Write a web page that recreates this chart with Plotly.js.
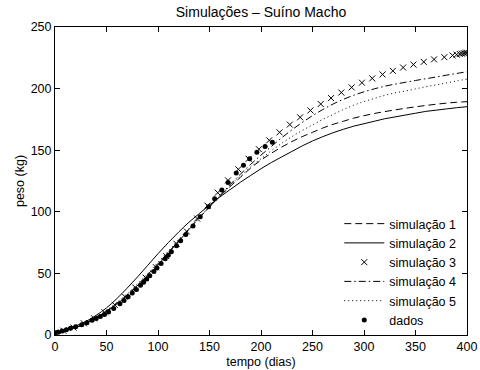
<!DOCTYPE html>
<html>
<head>
<meta charset="utf-8">
<script src="https://cdn.plot.ly/plotly-3.0.1.min.js"></script>
<style>html,body{margin:0;padding:0;background:#fff;}#chart{width:480px;height:370px;}</style>
</head>
<body>
<div id="chart"></div>
<script>
// time grid (days) for simulated curves
const days = [0,10,20,30,40,50,60,70,80,90,100,110,120,130,140,150,160,170,180,190,200,
  210,220,230,240,250,260,270,280,290,300,310,320,330,340,350,360,370,380,390,400];

const sim1 = [2,3.5,6,9.5,14,19.5,25.5,32.5,40.5,49,58,67,76.5,86,95,104,112.5,120.5,128,135.5,142,
  147.5,152.5,157,161,164.5,168,171,173.5,176,178,179.8,181.3,182.7,184,185.2,186.3,187.3,188.2,188.9,189.4];

const sim2 = [2.5,4.5,7.3,11,16,22,29.5,38,47,56.5,66,75,83.5,91.5,98.5,105.5,112,118,124,129.5,135,
  140,144.5,149,153.5,157.5,161,164.2,167,169.5,171.5,173.5,175.5,177,178.5,180,181.5,182.5,183.5,184.5,185.3];

const sim4 = [2,3.5,6,9.5,14,19,25,32,39.5,48,57,66.5,76,85.5,95,104,113,122,130.5,138.5,146,
  153,160,166.5,172.5,178,183,187.5,191.3,194.6,197.4,199.8,201.9,203.6,205.1,206.6,208,209.4,210.9,212.3,213.7];

const sim5 = [2,3.5,6.2,10,14.5,20,26.5,33.5,41.5,50,59,68,77.5,86.5,95.5,104,112.5,121,129,136.5,143,
  149.5,155.5,161,166,170.5,175,179,183,186.5,189.5,192,194.5,196.5,198,199.8,201.5,203,204.6,206.2,207.7];

// simulation 3 (marker output points)
const days3 = [0,8,18,28,38,48,58,68,78,88,98,108,118,128,138,148,158,168,178,188,198,
  208,218,228,238,248,258,268,278,288,298,308,318,328,338,348,358,368,378,386,390,393,395,397,398.5,400];
const sim3 = [2,3.5,6,9.5,13.5,18.5,24.5,31,38.5,46.5,55,64,74,84,94.5,105,115.5,125.5,134.5,143,150.8,
  158,164.5,170.8,176.7,182.3,187.5,192.3,196.8,201,204.8,208.3,211.5,214.4,217.1,219.5,221.7,223.7,225.5,226.9,227.6,228.1,228.4,228.7,228.9,229.1];

// observed data
const daysObs = [0,3,7,11,15,20,26,31,36,40,44,48,52,57,63,67,71,75,79,83,86,89,92,96,99,103,107,110,113,118,
  122,127,134,141,149,155,162,168,176,183,189,196,204,211];
const weightObs = [1.8,2.3,3.2,4.3,5.4,6.6,8.3,10,12,13.4,15,16.7,18.6,21.5,25.3,28,31,34,37,40.3,42.8,45.4,48,51.5,54.3,58,61.8,64.7,67.6,72.5,
  76.5,81.5,88.5,96,104,110.5,117.7,123.8,131.5,137.8,143,148.3,153,156.5];

const legendNames = ['simulação 1','simulação 2','simulação 3','simulação 4','simulação 5','dados'];
const FONT = '"Liberation Sans", Arial, Helvetica, sans-serif';

const traces = [
  {x: days, y: sim1, name: legendNames[0], mode: 'lines', line: {color: '#000', width: 1, dash: '7px,4px', shape: 'spline'}},
  {x: days, y: sim2, name: legendNames[1], mode: 'lines', line: {color: '#000', width: 1, shape: 'spline'}},
  {x: days3, y: sim3, name: legendNames[2], mode: 'markers', marker: {symbol: 'x-thin-open', size: 6, color: '#000', line: {color: '#000', width: 1}}},
  {x: days, y: sim4, name: legendNames[3], mode: 'lines', line: {color: '#000', width: 1, dash: '7px,3px,1.5px,3px', shape: 'spline'}},
  {x: days, y: sim5, name: legendNames[4], mode: 'lines', line: {color: '#000', width: 1, dash: '1px,3px', shape: 'spline'}},
  {x: daysObs, y: weightObs, name: legendNames[5], mode: 'markers', marker: {symbol: 'circle', size: 5, color: '#000'}}
];

const axisCommon = {
  showline: true, linecolor: '#000', linewidth: 1, mirror: 'ticks',
  ticks: 'inside', ticklen: 5, tickwidth: 1, tickcolor: '#000',
  showgrid: false, zeroline: false,
  tickfont: {family: FONT, size: 12.5, color: '#000'}
};

const layout = {
  width: 480, height: 370,
  margin: {l: 55, r: 13, t: 27, b: 35},
  paper_bgcolor: '#fff', plot_bgcolor: '#fff',
  font: {family: FONT, size: 12.5, color: '#000'},
  title: {text: 'Simulações – Suíno Macho', font: {family: FONT, size: 14, color: '#000'},
          x: 0.5, xref: 'paper', y: 1 - 12.5/370, yref: 'container', yanchor: 'middle'},
  xaxis: Object.assign({}, axisCommon, {range: [0, 400], tickvals: [0,50,100,150,200,250,300,350,400],
          title: {text: 'tempo (dias)', font: {family: FONT, size: 12.5, color: '#000'}, standoff: 4}}),
  yaxis: Object.assign({}, axisCommon, {range: [0, 250], tickvals: [0,50,100,150,200,250],
          title: {text: 'peso (kg)', font: {family: FONT, size: 12.5, color: '#000'}, standoff: 3}}),
  showlegend: true,
  legend: {x: 0.69, xanchor: 'left', y: 0.0, yanchor: 'bottom', bgcolor: 'rgba(0,0,0,0)',
           borderwidth: 0, font: {family: FONT, size: 12.5, color: '#000'}, itemwidth: 40, traceorder: 'normal'}
};

Plotly.newPlot('chart', traces, layout, {displayModeBar: false, staticPlot: true});
</script>
</body>
</html>
